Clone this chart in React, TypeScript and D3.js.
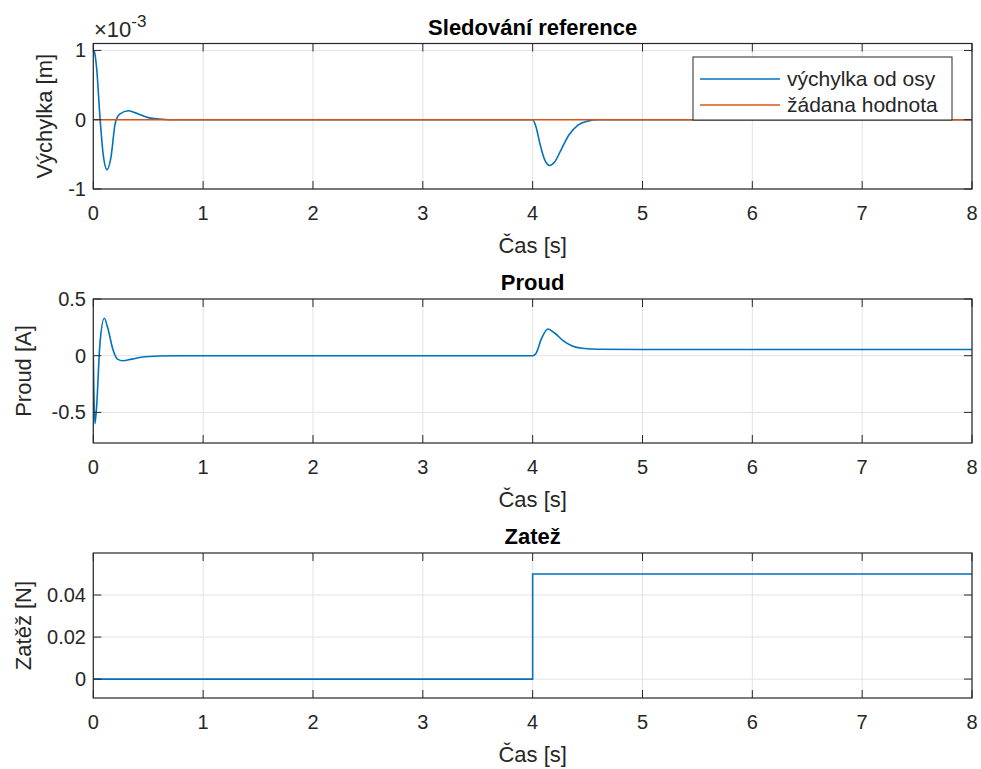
import React, { useEffect, useRef } from "react";
import * as d3 from "d3";

// time axis ticks (shared by all three panels)
const timeTicks = [0, 1, 2, 3, 4, 5, 6, 7, 8];

// deflection from axis, in units of 1e-3 m
const deflT = [0, 0.01, 0.03, 0.06, 0.09, 0.125, 0.16, 0.2, 0.24, 0.32, 0.4, 0.5, 0.6, 0.7, 1, 4.0, 4.03, 4.07, 4.11, 4.155, 4.2, 4.26, 4.33, 4.41, 4.5, 4.6, 8];
const deflV = [1.0, 0.98, 0.75, 0.05, -0.5, -0.72, -0.55, -0.05, 0.08, 0.13, 0.09, 0.03, 0.01, 0, 0, 0, -0.1, -0.37, -0.58, -0.66, -0.61, -0.43, -0.22, -0.08, -0.02, 0, 0];
// reference (setpoint)
const refT = [0, 8];
const refV = [0, 0];

// coil current [A]
const currT = [0, 0.005, 0.015, 0.03, 0.06, 0.1, 0.13, 0.18, 0.22, 0.27, 0.35, 0.45, 0.6, 0.8, 4, 4.03, 4.08, 4.14, 4.2, 4.28, 4.36, 4.45, 4.6, 5, 8];
const currV = [0, -0.3, -0.6, -0.45, 0.1, 0.33, 0.25, 0.05, -0.03, -0.045, -0.03, -0.012, -0.003, 0, 0, 0.02, 0.15, 0.235, 0.2, 0.13, 0.085, 0.065, 0.057, 0.055, 0.055];

// load force [N]
const loadT = [0, 4, 8];
const loadV = [0, 0.05, 0.05];

const panels = [
  { title: "Sledování reference", ylabel: "Výchylka [m]", top: 43.5, bottom: 189, domain: [-1, 1.1], yticks: [-1, 0, 1], labelX: 52 },
  { title: "Proud", ylabel: "Proud [A]", top: 299, bottom: 443, domain: [-0.77, 0.5], yticks: [-0.5, 0, 0.5], labelX: 31 },
  { title: "Zatež", ylabel: "Zatěž [N]", top: 553, bottom: 698, domain: [-0.009, 0.06], yticks: [0, 0.02, 0.04], labelX: 31 },
];

const blue = "#0072BD";
const orange = "#D95319";
const axisColor = "#262626";
const font = "'Liberation Sans', Arial, sans-serif";

function App() {
  const ref = useRef<SVGSVGElement>(null);

  useEffect(() => {
    const svg = d3.select(ref.current);
    svg.selectAll("*").remove();

    const left = 93.3, right = 972;
    const x = d3.scaleLinear().domain([0, 8]).range([left, right]);

    const series = [
      [{ t: deflT, v: deflV, c: blue, curve: d3.curveMonotoneX }, { t: refT, v: refV, c: orange, curve: d3.curveLinear }],
      [{ t: currT, v: currV, c: blue, curve: d3.curveMonotoneX }],
      [{ t: loadT, v: loadV, c: blue, curve: d3.curveStepAfter }],
    ];

    panels.forEach((p, i) => {
      const y = d3.scaleLinear().domain(p.domain).range([p.bottom, p.top]);
      const g = svg.append("g");

      g.append("rect").attr("x", left).attr("y", p.top).attr("width", right - left).attr("height", p.bottom - p.top).attr("fill", "#fff");

      // grid
      g.selectAll(".gx").data(timeTicks).enter().append("line")
        .attr("x1", d => x(d)).attr("x2", d => x(d)).attr("y1", p.top).attr("y2", p.bottom)
        .attr("stroke", "#e3e3e3").attr("stroke-width", 1);
      g.selectAll(".gy").data(p.yticks).enter().append("line")
        .attr("x1", left).attr("x2", right).attr("y1", d => y(d)).attr("y2", d => y(d))
        .attr("stroke", "#e3e3e3").attr("stroke-width", 1);

      // lines
      const clipId = "clip" + i;
      g.append("clipPath").attr("id", clipId).append("rect")
        .attr("x", left).attr("y", p.top).attr("width", right - left).attr("height", p.bottom - p.top);
      series[i].forEach(s => {
        const pts = s.t.map((t, k) => [t, s.v[k]] as [number, number]);
        const line = d3.line<[number, number]>().x(d => x(d[0])).y(d => y(d[1])).curve(s.curve);
        g.append("path").attr("d", line(pts)).attr("fill", "none").attr("stroke", s.c)
          .attr("stroke-width", 1.6).attr("clip-path", `url(#${clipId})`);
      });

      // box
      g.append("rect").attr("x", left).attr("y", p.top).attr("width", right - left).attr("height", p.bottom - p.top)
        .attr("fill", "none").attr("stroke", axisColor).attr("stroke-width", 1.2);

      // ticks (inside, all four sides)
      const tl = 8;
      timeTicks.forEach(t => {
        g.append("line").attr("x1", x(t)).attr("x2", x(t)).attr("y1", p.bottom).attr("y2", p.bottom - tl).attr("stroke", axisColor);
        g.append("line").attr("x1", x(t)).attr("x2", x(t)).attr("y1", p.top).attr("y2", p.top + tl).attr("stroke", axisColor);
      });
      p.yticks.forEach(v => {
        g.append("line").attr("x1", left).attr("x2", left + tl).attr("y1", y(v)).attr("y2", y(v)).attr("stroke", axisColor);
        g.append("line").attr("x1", right).attr("x2", right - tl).attr("y1", y(v)).attr("y2", y(v)).attr("stroke", axisColor);
      });

      // tick labels
      g.selectAll(".xl").data(timeTicks).enter().append("text")
        .attr("x", d => x(d)).attr("y", p.bottom + 31).attr("text-anchor", "middle")
        .style("font", `20px ${font}`).attr("fill", axisColor).text(d => String(d));
      g.selectAll(".yl").data(p.yticks).enter().append("text")
        .attr("x", 86).attr("y", d => y(d) + 7).attr("text-anchor", "end")
        .style("font", `20px ${font}`).attr("fill", axisColor).text(d => String(d));

      // axis labels + title
      g.append("text").attr("x", (left + right) / 2).attr("y", p.bottom + 64).attr("text-anchor", "middle")
        .style("font", `22px ${font}`).attr("fill", axisColor).text("Čas [s]");
      g.append("text").attr("transform", `translate(${p.labelX},${(p.top + p.bottom) / 2}) rotate(-90)`)
        .attr("text-anchor", "middle").style("font", `22px ${font}`).attr("fill", axisColor).text(p.ylabel);
      g.append("text").attr("x", (left + right) / 2).attr("y", p.top - 9).attr("text-anchor", "middle")
        .style("font", `bold 22px ${font}`).attr("fill", "#000").text(p.title);
    });

    // exponent label for the first panel
    const ex = svg.append("text").attr("x", 94).attr("y", 37).style("font", `22px ${font}`).attr("fill", axisColor);
    ex.append("tspan").text("×10");
    ex.append("tspan").attr("dy", -10).style("font-size", "17px").text("-3");

    // legend
    const lg = svg.append("g");
    lg.append("rect").attr("x", 693).attr("y", 57).attr("width", 259).attr("height", 63)
      .attr("fill", "#fff").attr("stroke", axisColor).attr("stroke-width", 1);
    const items = [{ label: "výchylka od osy", c: blue }, { label: "žádana hodnota", c: orange }];
    items.forEach((it, k) => {
      const yy = 79 + k * 26;
      lg.append("line").attr("x1", 700).attr("x2", 780).attr("y1", yy).attr("y2", yy).attr("stroke", it.c).attr("stroke-width", 1.6);
      lg.append("text").attr("x", 787).attr("y", yy + 7).style("font", `21px ${font}`).attr("fill", axisColor).text(it.label);
    });
  }, []);

  return (
    <svg ref={ref} width={981} height={769} style={{ position: "absolute", left: 0, top: 0, background: "#fff" }} />
  );
}

export default App;
